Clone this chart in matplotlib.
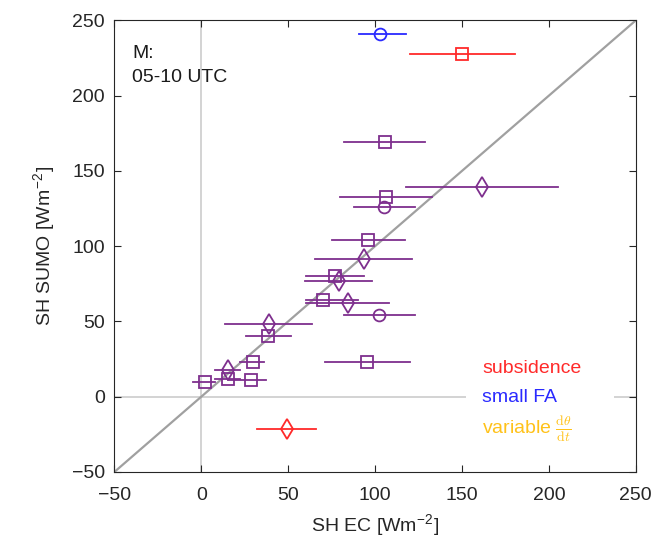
import matplotlib.pyplot as plt

plt.rcParams['font.family'] = ['Liberation Sans', 'DejaVu Sans']
plt.rcParams['mathtext.fontset'] = 'cm'

PURPLE, RED, BLUE, GOLD = "#7E2F8E", "#FF2A2A", "#2A2AFF", "#FFC21A"

# SH EC (x), SH SUMO (y), x error bar range, marker, colour
sh_ec   = [103, 150, 105.5, 161.5, 106.5, 105, 96, 93.5, 77, 79, 70, 84.5,
           102, 39, 38.5, 95.5, 30, 15.5, 15.5, 28.5, 2, 49.5]
sh_sumo = [241, 228, 169, 139, 132.5, 126, 104, 91.5, 80.5, 77, 64.5, 62.5,
           54.5, 48.5, 40.5, 23, 23, 18, 11.5, 11, 9.5, -21.5]
err_lo  = [90.5, 120, 82, 118, 80, 88, 75.5, 65.5, 60.5, 59.5, 60, 60.5,
           82, 13.5, 26, 71, 22, 8, 8, 15.5, -5, 32]
err_hi  = [118, 180.5, 129, 205, 132.5, 123, 117.5, 121, 93.5, 98, 90, 108,
           123, 63.5, 51.5, 120, 36, 22.5, 22, 37, 8, 66]
markers = ["o", "s", "s", "d", "s", "o", "s", "d", "s", "d", "s", "d",
           "o", "d", "s", "s", "s", "d", "s", "s", "s", "d"]
colours = [BLUE, RED] + [PURPLE] * 19 + [RED]

fig = plt.figure(figsize=(6.65, 5.52), dpi=100)
ax = fig.add_axes([0.172, 0.145, 0.784, 0.818])

ax.axhline(0, color="#cccccc", lw=1.2, zorder=1)
ax.axvline(0, color="#cccccc", lw=1.2, zorder=1)
ax.plot([-50, 250], [-50, 250], color="#a0a0a0", lw=1.6, zorder=2)

for x, y, lo, hi, m, c in zip(sh_ec, sh_sumo, err_lo, err_hi, markers, colours):
    ax.plot([lo, hi], [y, y], color=c, lw=1.3, zorder=3)
    ax.plot(x, y, marker=m, ms=8.5 if m != "d" else 10, mfc="none", mec=c,
            mew=1.3, linestyle="none", zorder=4)

ax.set_xlim(-50, 250)
ax.set_ylim(-50, 250)
ax.set_xticks(range(-50, 251, 50))
ax.set_yticks(range(-50, 251, 50))
ax.tick_params(direction="in", top=True, right=True, labelsize=14,
               length=5, colors="#262626")
ax.tick_params(axis="x", pad=11)
ax.tick_params(axis="y", pad=7)
for s in ax.spines.values():
    s.set_color("#262626")
ax.set_xlabel(r"SH EC [Wm$^{\mathregular{-2}}$]", fontsize=14, color="#262626",
              labelpad=6)
ax.set_ylabel(r"SH SUMO [Wm$^{\mathregular{-2}}$]", fontsize=14, color="#262626",
              labelpad=10)

ax.text(0.034, 0.945, "M:\n05-10 UTC", transform=ax.transAxes, fontsize=14,
        color="#1a1a1a", va="top", ha="left", linespacing=1.5)

# legend-like text block with white background
ax.add_patch(plt.Rectangle((0.674, 0.06), 0.285, 0.2, transform=ax.transAxes,
                           facecolor="white", edgecolor="none", zorder=5))
ax.text(0.705, 0.23, "subsidence", transform=ax.transAxes, fontsize=14,
        color=RED, va="center", zorder=6)
ax.text(0.705, 0.166, "small FA", transform=ax.transAxes, fontsize=14,
        color=BLUE, va="center", zorder=6)
ax.text(0.705, 0.095, r"variable $\frac{\mathrm{d}\theta}{\mathrm{d}t}$",
        transform=ax.transAxes, fontsize=14, color=GOLD, va="center", zorder=6)

fig.savefig("out.png", dpi=100)
